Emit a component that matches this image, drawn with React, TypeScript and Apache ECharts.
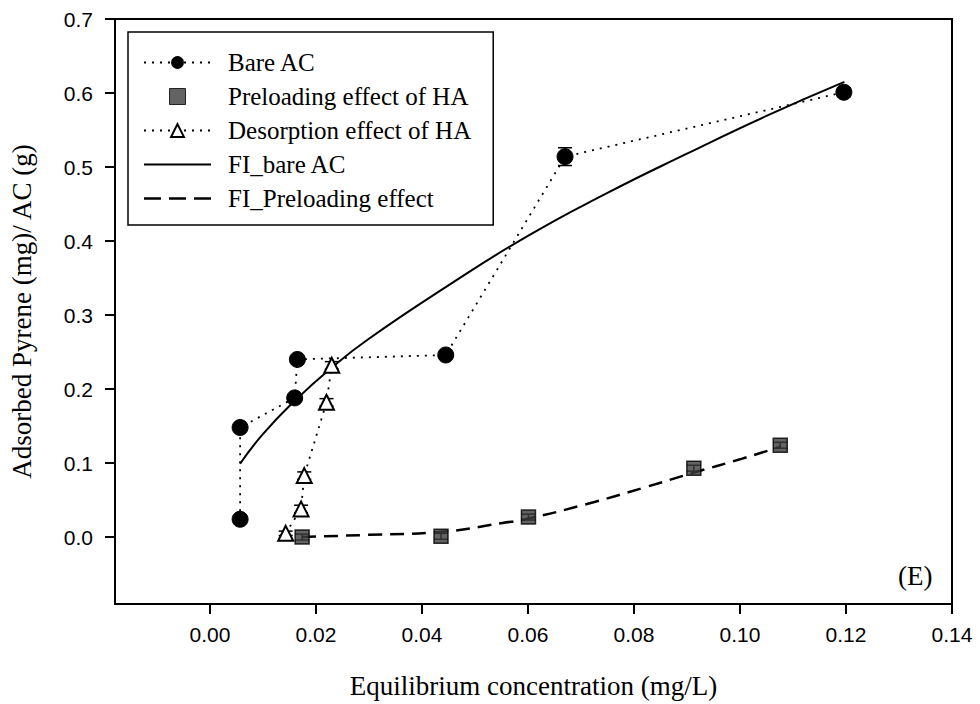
import React, { useEffect, useRef } from "react";
import * as echarts from "echarts";

// Bare AC (filled circles, dotted connection in drawing order)
const bareAC: number[][] = [
  [0.0057, 0.024],
  [0.0057, 0.148],
  [0.016, 0.188],
  [0.0165, 0.24],
  [0.0445, 0.246],
  [0.067, 0.514],
  [0.1196, 0.601],
];
const bareACErr: number[] = [0.004, 0.004, 0.004, 0.004, 0.003, 0.012, 0.006];

// Preloading effect of HA (gray squares)
const preloading: number[][] = [
  [0.0174, 0.0],
  [0.0436, 0.001],
  [0.0601, 0.027],
  [0.0913, 0.093],
  [0.1076, 0.124],
];
const preloadingErr: number[] = [0.004, 0.004, 0.004, 0.004, 0.004];

// Desorption effect of HA (open triangles)
const desorption: number[][] = [
  [0.0143, 0.005],
  [0.0172, 0.038],
  [0.0178, 0.083],
  [0.022, 0.182],
  [0.023, 0.232],
];
const desorptionErr: number[] = [0.003, 0.005, 0.005, 0.005, 0.005];

// Fitted curves
const fitBare: number[][] = [
  [0.0057, 0.099],
  [0.01, 0.139],
  [0.016, 0.184],
  [0.023, 0.229],
  [0.03, 0.268],
  [0.045, 0.34],
  [0.06, 0.407],
  [0.075, 0.465],
  [0.09, 0.518],
  [0.105, 0.569],
  [0.1197, 0.615],
];
const fitPreloading: number[][] = [
  [0.0174, 0.0],
  [0.03, 0.003],
  [0.0436, 0.007],
  [0.0552, 0.019],
  [0.0601, 0.025],
  [0.0708, 0.044],
  [0.082, 0.067],
  [0.0913, 0.087],
  [0.1, 0.105],
  [0.1076, 0.122],
];

const xTicks: number[] = [0, 0.02, 0.04, 0.06, 0.08, 0.1, 0.12, 0.14];
const yTicks: number[] = [0, 0.1, 0.2, 0.3, 0.4, 0.5, 0.6, 0.7];

const serif = "'Liberation Serif', 'Times New Roman', serif";
const narrow = "'Liberation Sans Narrow', 'Arial Narrow', 'Liberation Sans', Arial, sans-serif";
const sans = "'Liberation Sans', Arial, sans-serif";

function errData(points: number[][], errs: number[]) {
  return points.map((p, i) => [p[0], p[1] - errs[i], p[1] + errs[i]]);
}

function errorBarSeries(data: number[][]) {
  return {
    type: "custom",
    silent: true,
    z: 3,
    data,
    encode: { x: 0, y: [1, 2] },
    renderItem: (_params: any, api: any) => {
      const x = api.value(0);
      const lo = api.coord([x, api.value(1)]);
      const hi = api.coord([x, api.value(2)]);
      const half = 7;
      const style = { stroke: "#000", lineWidth: 1.5 };
      return {
        type: "group",
        children: [
          { type: "line", shape: { x1: lo[0], y1: lo[1], x2: hi[0], y2: hi[1] }, style },
          { type: "line", shape: { x1: lo[0] - half, y1: lo[1], x2: lo[0] + half, y2: lo[1] }, style },
          { type: "line", shape: { x1: hi[0] - half, y1: hi[1], x2: hi[0] + half, y2: hi[1] }, style },
        ],
      };
    },
  };
}

const solidIcon = "path://M0,0H67V2.2H0Z";
const dashIcon = "path://M0,0H17V2.6H0Z M25,0H42V2.6H25Z M50,0H67V2.6H50Z";
const squareIcon = "path://M0,0H12V12H0Z";

export default function App() {
  const ref = useRef<HTMLDivElement>(null);

  useEffect(() => {
    if (!ref.current) return;
    const chart = echarts.init(ref.current, undefined, { renderer: "svg" });
    const option: any = {
      animation: false,
      backgroundColor: "#fff",
      grid: {
        left: 110,
        right: 28,
        top: 19,
        bottom: 95,
        show: true,
        borderColor: "#000",
        borderWidth: 2,
      },
      legend: {
        data: [
          { name: "Bare AC" },
          { name: "Preloading effect of HA", icon: squareIcon, itemStyle: { color: "#3c3c3c", borderColor: "#000", borderWidth: 1 } },
          { name: "Desorption effect of HA" },
          { name: "FI_bare AC", icon: solidIcon },
          { name: "FI_Preloading effect", icon: dashIcon },
        ],
        orient: "vertical",
        left: 128,
        top: 32,
        padding: [18, 22, 14, 15],
        borderColor: "#000",
        borderWidth: 1.5,
        itemWidth: 67,
        itemHeight: 16,
        itemGap: 9,
        textStyle: {
          fontFamily: serif,
          fontSize: 25,
          color: "#000",
          lineHeight: 25,
          padding: [0, 0, 0, 12],
        },
      },
      xAxis: {
        type: "value",
        min: -0.0179,
        max: 0.14,
        name: "Equilibrium concentration (mg/L)",
        nameLocation: "middle",
        nameGap: 68,
        nameTextStyle: { fontFamily: serif, fontSize: 27, color: "#000" },
        axisLine: { show: true, onZero: false, lineStyle: { color: "#000", width: 2 } },
        axisTick: {
          show: true,
          inside: false,
          length: 10,
          customValues: xTicks,
          lineStyle: { color: "#000", width: 2 },
        },
        axisLabel: {
          customValues: xTicks,
          margin: 20,
          fontFamily: narrow,
          fontSize: 21,
          color: "#000",
          formatter: (v: number) => v.toFixed(2),
        },
        splitLine: { show: false },
      },
      yAxis: {
        type: "value",
        min: -0.0905,
        max: 0.7,
        name: "Adsorbed Pyrene (mg)/ AC (g)",
        nameLocation: "middle",
        nameGap: 80,
        nameTextStyle: { fontFamily: serif, fontSize: 27, color: "#000" },
        axisLine: { show: true, onZero: false, lineStyle: { color: "#000", width: 2 } },
        axisTick: {
          show: true,
          inside: false,
          length: 10,
          customValues: yTicks,
          lineStyle: { color: "#000", width: 2 },
        },
        axisLabel: {
          customValues: yTicks,
          margin: 22,
          fontFamily: sans,
          fontSize: 21,
          color: "#000",
          formatter: (v: number) => v.toFixed(1),
        },
        splitLine: { show: false },
      },
      graphic: [
        {
          type: "text",
          left: 898,
          top: 562,
          style: { text: "(E)", font: `27px ${serif}`, fill: "#000" },
        },
      ],
      series: [
        {
          name: "FI_bare AC",
          type: "line",
          data: fitBare,
          smooth: true,
          symbol: "none",
          z: 2,
          lineStyle: { color: "#000", width: 2, type: "solid" },
          itemStyle: { color: "#000" },
        },
        {
          name: "FI_Preloading effect",
          type: "line",
          data: fitPreloading,
          smooth: true,
          symbol: "none",
          z: 2,
          lineStyle: { color: "#000", width: 2.5, type: [14, 8] },
          itemStyle: { color: "#000" },
        },
        errorBarSeries(errData(bareAC, bareACErr)),
        errorBarSeries(errData(preloading, preloadingErr)),
        errorBarSeries(errData(desorption, desorptionErr)),
        {
          name: "Bare AC",
          type: "line",
          data: bareAC,
          symbol: "circle",
          symbolSize: 16,
          z: 4,
          lineStyle: { color: "#000", width: 1.8, type: [2, 6] },
          itemStyle: { color: "#000", borderColor: "#000" },
        },
        {
          name: "Preloading effect of HA",
          type: "scatter",
          data: preloading,
          symbol: "rect",
          symbolSize: 14,
          z: 4,
          itemStyle: { color: "#3c3c3c", borderColor: "#000", borderWidth: 1.5 },
        },
        {
          name: "Desorption effect of HA",
          type: "line",
          data: desorption,
          symbol: "triangle",
          symbolSize: 15,
          z: 4,
          lineStyle: { color: "#000", width: 1.8, type: [2, 6] },
          itemStyle: { color: "#fff", borderColor: "#000", borderWidth: 2 },
        },
      ],
    };
    chart.setOption(option);
    return () => chart.dispose();
  }, []);

  return (
    <div
      ref={ref}
      style={{ position: "absolute", left: 0, top: 0, width: 980, height: 704 }}
    />
  );
}
